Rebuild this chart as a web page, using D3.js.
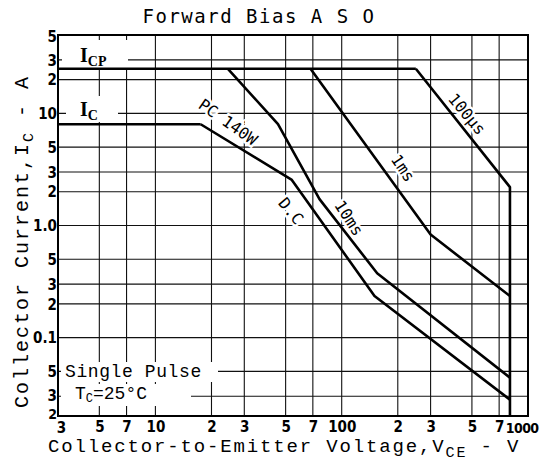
<!DOCTYPE html>
<html><head><meta charset="utf-8">
<script src="https://cdn.jsdelivr.net/npm/d3@7"></script>
<style>
html,body{margin:0;padding:0;background:#fff;}
svg{display:block;}
</style></head>
<body>
<script>
// ---- data ----
const xDomain = [3, 1000];
const yDomain = [0.02, 50];
const xGrid = [5, 7, 10, 20, 30, 50, 70, 100, 200, 300, 500, 700];
const yGrid = [0.03, 0.05, 0.1, 0.2, 0.3, 0.5, 1, 2, 3, 5, 10, 20, 30];
const xTickValues = [3, 5, 7, 10, 20, 30, 50, 70, 100, 200, 300, 500, 700, 1000];
const xTickLabels = ["3", "5", "7", "10", "2", "3", "5", "7", "100", "2", "3", "5", "7", "1000"];
const yTickValues = [0.02, 0.03, 0.05, 0.1, 0.2, 0.3, 0.5, 1, 2, 3, 5, 10, 20, 30, 50];
const yTickLabels = ["2", "3", "5", "0.1", "2", "3", "5", "1.0", "2", "3", "5", "10", "2", "3", "5"];

const icpLine = [[3, 25], [250, 25]];
const icLine = [[3, 8], [17.5, 8]];
const dcCurve = [[17.5, 8], [54, 2.55], [150, 0.235], [800, 0.028]];
const ms10Curve = [[24.5, 25], [45.5, 8], [76, 1.72], [155, 0.375], [800, 0.044]];
const ms1Curve = [[68, 25], [300, 0.83], [800, 0.235]];
const us100Curve = [[250, 25], [800, 2.2], [800, 0.02]];

// ---- chart ----
const W = 541, H = 468;
const svg = d3.select("body").append("svg").attr("width", W).attr("height", H);
const x = d3.scaleLog().domain(xDomain).range([58, 528]);
const y = d3.scaleLog().domain(yDomain).range([416, 35]);

const gridColor = "#111";
// grid
svg.append("g").selectAll("line.v").data(xGrid).join("line")
  .attr("x1", d => x(d)).attr("x2", d => x(d))
  .attr("y1", y(yDomain[1])).attr("y2", y(yDomain[0]))
  .attr("stroke", gridColor).attr("stroke-width", 1.1);
svg.append("g").selectAll("line.h").data(yGrid).join("line")
  .attr("x1", x(xDomain[0])).attr("x2", x(xDomain[1]))
  .attr("y1", d => y(d)).attr("y2", d => y(d))
  .attr("stroke", gridColor).attr("stroke-width", 1.1);

// frame
svg.append("rect").attr("x", x(xDomain[0])).attr("y", y(yDomain[1]))
  .attr("width", x(xDomain[1]) - x(xDomain[0])).attr("height", y(yDomain[0]) - y(yDomain[1]))
  .attr("fill", "none").attr("stroke", "#000").attr("stroke-width", 2);

// axes tick labels
const tickFont = "'Liberation Sans Narrow','DejaVu Sans Condensed','Arial Narrow',sans-serif";
const xAxis = d3.axisBottom(x).tickValues(xTickValues).tickSize(0)
  .tickFormat((d, i) => xTickLabels[i]);
const gx = svg.append("g").attr("transform", `translate(0,${y(yDomain[0])})`).call(xAxis);
gx.select(".domain").remove();
gx.selectAll("text").attr("dy", null).attr("y", 16)
  .attr("font-family", tickFont).attr("font-weight", "bold").attr("font-size", 15).attr("fill", "#000");
gx.selectAll("text").filter(d => d === 1000)
  .attr("text-anchor", "end").attr("x", 10).attr("y", 17).attr("font-size", 14).attr("letter-spacing", -0.6);
gx.selectAll("text").filter(d => d === 3).attr("x", 3).attr("y", 17);

const yAxis = d3.axisLeft(y).tickValues(yTickValues).tickSize(0)
  .tickFormat((d, i) => yTickLabels[i]);
const gy = svg.append("g").attr("transform", `translate(${x(xDomain[0])},0)`).call(yAxis);
gy.select(".domain").remove();
gy.selectAll("text").attr("x", -1).attr("dy", "0.35em")
  .attr("font-family", tickFont).attr("font-weight", "bold").attr("font-size", 15).attr("fill", "#000");
gy.selectAll("text").filter(d => d === 0.02).attr("dy", "0.2em").attr("font-size", 14);
gy.selectAll("text").filter(d => d === 0.03).attr("dy", "0.3em");
gy.selectAll("text").filter(d => d === 50).attr("dy", "0.45em");

// label boxes (white, hide grid)
function whiteBox(x0, y0, w, h) {
  svg.append("rect").attr("x", x0).attr("y", y0).attr("width", w).attr("height", h).attr("fill", "#fff");
}
whiteBox(62, 40, 66, 28);
whiteBox(66, 96, 52, 26);
whiteBox(61, 362, 157, 20);
whiteBox(61, 384, 130, 22);

// curve labels with halo
const monoFont = "'DejaVu Sans Mono',monospace";
function curveLabel(txt, cx, cy, ang, size) {
  svg.append("text").attr("transform", `translate(${cx},${cy}) rotate(${ang})`)
    .attr("text-anchor", "middle").attr("dy", "0.35em")
    .attr("font-family", monoFont).attr("font-size", size)
    .attr("stroke", "#fff").attr("stroke-width", 5).attr("paint-order", "stroke")
    .attr("fill", "#000").text(txt);
}
curveLabel("PC 140W", 228, 122, 35, 16);
curveLabel("D.C", 291, 211, 50, 16);
curveLabel("10ms", 349, 218, 57, 16);
curveLabel("1ms", 403, 168, 56, 16);
curveLabel("100\u03bcs", 467, 114, 50, 16);

// curves
const line = d3.line().x(d => x(d[0])).y(d => y(d[1]));
[icpLine, icLine, dcCurve, ms10Curve, ms1Curve, us100Curve].forEach(c => {
  svg.append("path").attr("d", line(c)).attr("fill", "none")
    .attr("stroke", "#000").attr("stroke-width", 2.6).attr("stroke-linejoin", "round");
});

// I_CP and I_C labels
const serif = "'Liberation Serif','DejaVu Serif',serif";
const tcp = svg.append("text").attr("x", 80).attr("y", 62).attr("font-family", serif)
  .attr("font-weight", "bold").attr("font-size", 20).attr("fill", "#000");
tcp.append("tspan").text("I");
tcp.append("tspan").attr("font-size", 14).attr("dy", 4).text("CP");
const tc = svg.append("text").attr("x", 80).attr("y", 116).attr("font-family", serif)
  .attr("font-weight", "bold").attr("font-size", 20).attr("fill", "#000");
tc.append("tspan").text("I");
tc.append("tspan").attr("font-size", 14).attr("dy", 4).text("C");

// Single pulse note
const noteFont = "'Liberation Mono','DejaVu Sans Mono',monospace";
svg.append("text").attr("x", 65).attr("y", 377).attr("font-family", noteFont)
  .attr("font-size", 18).attr("letter-spacing", 0.6).attr("fill", "#000").text("Single Pulse");
const tcn = svg.append("text").attr("x", 75).attr("y", 399).attr("font-family", noteFont)
  .attr("font-size", 18).attr("fill", "#000");
tcn.append("tspan").text("T");
tcn.append("tspan").attr("font-size", 12).attr("dy", 3).text("C");
tcn.append("tspan").attr("dy", -3).text("=25\u00b0C");

// title
svg.append("text").attr("x", 259).attr("y", 23).attr("text-anchor", "middle")
  .attr("font-family", "'DejaVu Sans Mono',monospace").attr("font-size", 19)
  .attr("letter-spacing", 1.5).attr("fill", "#000").text("Forward Bias A S O");

// x axis title
const axFont = "'Liberation Mono','DejaVu Sans Mono',monospace";
const xt = svg.append("text").attr("x", 48).attr("y", 452)
  .attr("font-family", axFont).attr("font-size", 19).attr("letter-spacing", 1.85).attr("fill", "#000");
xt.append("tspan").text("Collector-to-Emitter Voltage,V");
xt.append("tspan").attr("font-size", 15).attr("dy", 5).text("CE");
xt.append("tspan").attr("dy", -5).text(" - V");

// y axis title
const yt = svg.append("text").attr("transform", "translate(28,408) rotate(-90)")
  .attr("font-family", axFont).attr("font-size", 20).attr("letter-spacing", 2).attr("fill", "#000");
yt.append("tspan").text("Collector Current,I");
yt.append("tspan").attr("font-size", 15).attr("dy", 5).text("C");
yt.append("tspan").attr("dy", -5).text(" - A");
</script>
</body></html>
